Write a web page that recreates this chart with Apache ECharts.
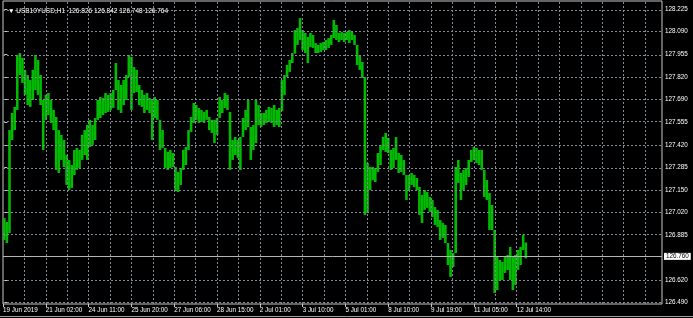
<!DOCTYPE html>
<html><head><meta charset="utf-8">
<script src="https://cdn.jsdelivr.net/npm/echarts@6/dist/echarts.min.js"></script>
<style>html,body{margin:0;padding:0;background:#000;}#c{width:693px;height:318px;}</style>
</head><body><div id="c"></div>
<script>
const symbolName = 'USB10YUSD,H1';
const lastOHLC = [126.826, 126.842, 126.748, 126.764];
const currentPrice = 126.764;
const priceTicks = [128.225, 128.090, 127.955, 127.820, 127.690, 127.555, 127.420, 127.285, 127.150, 127.020, 126.885, 126.620, 126.490];
const timeLabels = ['19 Jun 2019','21 Jun 02:00','24 Jun 11:00','25 Jun 20:00','27 Jun 06:00','28 Jun 15:00','2 Jul 01:00','3 Jul 10:00','5 Jul 01:00','8 Jul 10:00','9 Jul 19:00','11 Jul 05:00','12 Jul 14:00'];
const barsPerLabel = 16.5;
const highs = [
126.987,126.964,127.508,127.609,127.645,127.952,127.964,127.935,127.864,127.834,
127.804,127.864,127.952,127.923,127.834,127.686,127.716,127.727,127.686,127.627,
127.585,127.508,127.479,127.449,127.360,127.331,127.301,127.390,127.402,127.390,
127.479,127.508,127.538,127.568,127.538,127.579,127.686,127.704,127.698,127.727,
127.716,127.727,127.745,127.905,127.804,127.775,127.804,127.834,127.952,127.941,
127.881,127.864,127.775,127.745,127.716,127.727,127.698,127.686,127.704,127.686,
127.568,127.508,127.402,127.378,127.390,127.372,127.289,127.260,127.283,127.390,
127.408,127.508,127.585,127.668,127.656,127.639,127.627,127.615,127.627,127.585,
127.568,127.568,127.579,127.704,127.686,127.727,127.716,127.615,127.449,127.467,
127.449,127.467,127.579,127.627,127.686,127.526,127.538,127.686,127.656,127.609,
127.609,127.627,127.645,127.639,127.656,127.627,127.639,127.804,127.834,127.893,
127.923,127.964,128.100,128.112,128.171,128.100,128.083,128.059,128.083,128.071,
128.023,128.012,128.023,128.029,128.041,128.053,128.071,128.160,128.130,128.083,
128.089,128.083,128.089,128.100,128.089,128.071,128.012,127.952,127.911,127.822,
127.313,127.289,127.289,127.283,127.372,127.420,127.467,127.491,127.461,127.390,
127.402,127.467,127.372,127.360,127.331,127.242,127.242,127.254,127.242,127.224,
127.171,127.124,127.153,127.141,127.112,127.094,127.052,127.035,126.975,126.958,
126.946,126.839,126.798,126.780,127.289,127.331,127.254,127.272,127.283,127.331,
127.390,127.408,127.402,127.390,127.390,127.272,127.212,127.135,127.064,126.916,
126.756,126.739,126.727,126.756,126.768,126.816,126.756,126.768,126.798,126.816,
126.887,126.842];
const lows = [
126.857,126.839,126.898,127.449,127.508,127.627,127.834,127.787,127.716,127.656,
127.645,127.686,127.745,127.716,127.656,127.390,127.568,127.597,127.550,127.508,
127.272,127.254,127.331,127.289,127.183,127.153,127.165,127.242,127.272,127.283,
127.331,127.360,127.331,127.408,127.420,127.449,127.568,127.579,127.597,127.609,
127.615,127.627,127.639,127.745,127.627,127.609,127.656,127.686,127.822,127.627,
127.727,127.733,127.656,127.645,127.609,127.627,127.609,127.449,127.579,127.568,
127.390,127.402,127.283,127.272,127.283,127.289,127.153,127.141,127.183,127.272,
127.301,127.390,127.497,127.550,127.568,127.550,127.556,127.550,127.568,127.508,
127.491,127.431,127.479,127.579,127.609,127.639,127.627,127.272,127.331,127.360,
127.343,127.272,127.467,127.508,127.526,127.331,127.390,127.431,127.538,127.526,
127.538,127.550,127.556,127.550,127.526,127.538,127.526,127.620,127.716,127.822,
127.852,127.905,127.960,128.012,128.041,127.982,127.964,127.905,128.000,127.994,
127.964,127.964,127.970,127.982,127.982,127.994,128.012,128.053,128.041,128.029,
128.041,128.029,128.041,128.023,128.041,128.012,127.893,127.864,127.816,127.005,
127.017,127.153,127.212,127.200,127.260,127.301,127.390,127.378,127.372,127.272,
127.283,127.331,127.254,127.260,127.242,127.094,127.153,127.183,127.171,127.153,
127.005,126.958,127.035,127.047,127.023,126.993,126.946,126.934,126.857,126.869,
126.839,126.709,126.638,126.697,126.780,127.195,127.094,127.153,127.183,127.230,
127.319,127.331,127.313,127.301,127.272,127.112,127.094,126.916,126.916,126.543,
126.561,126.620,126.620,126.662,126.679,126.620,126.561,126.591,126.679,126.709,
126.798,126.748];

const GREEN = '#00bb00';
const GRID = '#7f8a96';
const FONT = 'Liberation Sans, DejaVu Sans, sans-serif';

const bars = highs.map((h, i) => [i, lows[i], h]);
const labelPos = timeLabels.map((t, k) => k * barsPerLabel - 0.5);
const vGrid = [];
for (let k = 1; (k * barsPerLabel / 2 - 0.5) < 252; k++) vGrid.push({ xAxis: k * barsPerLabel / 2 - 0.5 });
const hGrid = priceTicks.map(v => ({ yAxis: v }));

const chart = echarts.init(document.getElementById('c'), null, { renderer: 'canvas' });
chart.setOption({
  animation: false,
  backgroundColor: '#000000',
  title: {
    text: '\u25BC ' + symbolName + '  ' + lastOHLC.map(v => v.toFixed(3)).join(' '),
    left: 3, top: 3,
    textStyle: { color: '#ffffff', fontSize: 6.5, fontWeight: 'normal', fontFamily: FONT }
  },
  graphic: [
    { type: 'line', silent: true, shape: { x1: 0, y1: 316.5, x2: 693, y2: 316.5 }, style: { stroke: '#a0a0a0', lineWidth: 1 } }
  ],
  grid: { left: 2, right: 31, top: 1, bottom: 14, show: true, borderColor: '#c8c8c8', borderWidth: 1, backgroundColor: 'transparent' },
  xAxis: {
    type: 'value', min: -0.5, max: 253.5,
    axisLine: { show: false },
    splitLine: { show: false },
    axisTick: { show: true, length: 3, lineStyle: { color: '#c8c8c8' }, customValues: labelPos },
    axisLabel: {
      customValues: labelPos, color: '#ffffff', fontSize: 6.3, fontFamily: FONT, margin: 3, align: 'left',
      formatter: v => timeLabels[Math.round((v + 0.5) / barsPerLabel)] || ''
    }
  },
  yAxis: {
    type: 'value', position: 'right', min: 126.478, max: 128.272, scale: true,
    axisLine: { show: false },
    splitLine: { show: false },
    axisTick: { show: true, length: 3, inside: false, lineStyle: { color: '#c8c8c8' }, customValues: priceTicks },
    axisLabel: {
      customValues: priceTicks, color: '#ffffff', fontSize: 6.3, fontFamily: FONT, margin: 3,
      formatter: v => v.toFixed(3)
    }
  },
  series: [
    {
      type: 'line', data: [], z: 1, silent: true,
      markLine: {
        silent: true, symbol: 'none', animation: false,
        lineStyle: { color: GRID, type: [2, 2], width: 1 },
        label: { show: false },
        data: vGrid.concat(hGrid)
      }
    },
    {
      type: 'custom', z: 3, silent: true,
      data: bars,
      encode: { x: 0, y: [1, 2] },
      renderItem: (params, api) => {
        const x = api.value(0);
        const top = api.coord([x, api.value(2)]);
        const bot = api.coord([x, api.value(1)]);
        return { type: 'rect', shape: { x: top[0] - 1.3, y: top[1], width: 2.6, height: Math.max(1, bot[1] - top[1]) }, style: { fill: GREEN } };
      }
    },
    {
      type: 'line', data: [], z: 5, silent: true,
      markLine: {
        silent: true, symbol: 'none', animation: false,
        lineStyle: { color: '#b4b4b4', type: 'solid', width: 1 },
        label: {
          show: true, position: 'end', distance: 2, formatter: p => p.value.toFixed(3),
          color: '#000000', backgroundColor: '#ffffff', padding: [1, 2, 0, 2],
          fontSize: 6.3, fontFamily: FONT
        },
        data: [{ yAxis: currentPrice }]
      }
    }
  ]
});
</script>
</body></html>
